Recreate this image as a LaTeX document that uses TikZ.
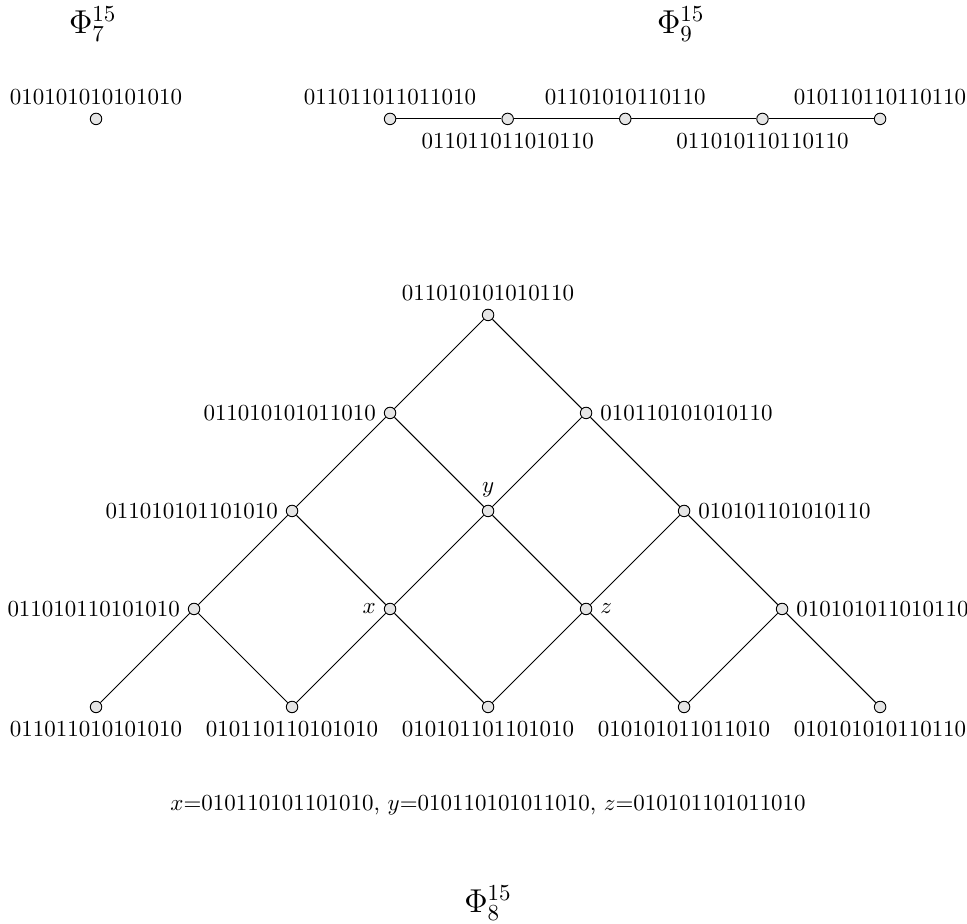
\documentclass[tikz,border=0pt]{standalone}
\usepackage{amsmath}
\usepackage{amssymb}
\usepackage{xcolor}
\usetikzlibrary{positioning}

\begin{document}
\begin{tikzpicture}[scale=1.0,
    vtx/.style={circle, draw, fill=gray!20, inner sep=0pt, minimum size=5pt},
    title/.style={font=\Large}]
            \useasboundingbox (-7.47,4.82) rectangle (7.33,-9.31);
            % Titles
            \node[title] (t7) at (-6.05,4.45) {$\Phi^{15}_{7}$};
            \node[title] (t9) at (2.95,4.45) {$\Phi^{15}_{9}$};
            \node[title] (t8) at (0,-9.0) {$\Phi^{15}_{8}$};

            % Phi_7
            \node[vtx, label=above:{010101010101010}] (s1) at (-6,3) {};

            % Phi_9 (path)
            \node[vtx, label=above:{011011011011010}] (p1) at (-1.5,3) {};
            \node[vtx, label=below:{011011011010110}] (p2) at (0.3,3) {};
            \node[vtx, label=above:{01101010110110}] (p3) at (2.1,3) {};
            \node[vtx, label=below:{011010110110110}] (p4) at (4.2,3) {};
            \node[vtx, label=above:{010110110110110}] (p5) at (6,3) {};

            \draw (p1) -- (p2);
            \draw (p2) -- (p3);
            \draw (p3) -- (p4);
            \draw (p4) -- (p5);

            % Phi_8 (lattice)
            \node[vtx, label=above:{011010101010110}] (v11) at (0,0) {};
            \node[vtx, label=left:{011010101011010}] (v21) at (-1.5,-1.5) {};
            \node[vtx, label=right:{010110101010110}] (v22) at (1.5,-1.5) {};
            \node[vtx, label=left:{011010101101010}] (v31) at (-3,-3) {};
            \node[vtx, label=above:{$y$}] (v32) at (0,-3) {};
            \node[vtx, label=right:{010101101010110}] (v33) at (3,-3) {};
            \node[vtx, label=left:{011010110101010}] (v41) at (-4.5,-4.5) {};
            \node[vtx, label=left:{$x$}] (v42) at (-1.5,-4.5) {};
            \node[vtx, label=right:{$z$}] (v43) at (1.5,-4.5) {};
            \node[vtx, label=right:{010101011010110}] (v44) at (4.5,-4.5) {};
            \node[vtx, label=below:{011011010101010}] (v51) at (-6,-6) {};
            \node[vtx, label=below:{010110110101010}] (v52) at (-3,-6) {};
            \node[vtx, label=below:{010101101101010}] (v53) at (0,-6) {};
            \node[vtx, label=below:{010101011011010}] (v54) at (3,-6) {};
            \node[vtx, label=below:{010101010110110}] (v55) at (6,-6) {};

            % Edges
            \draw (v11) -- (v21);
            \draw (v11) -- (v22);
            \draw (v21) -- (v31);
            \draw (v21) -- (v32);
            \draw (v22) -- (v32);
            \draw (v22) -- (v33);
            \draw (v31) -- (v41);
            \draw (v31) -- (v42);
            \draw (v32) -- (v42);
            \draw (v32) -- (v43);
            \draw (v33) -- (v43);
            \draw (v33) -- (v44);
            \draw (v41) -- (v51);
            \draw (v41) -- (v52);
            \draw (v42) -- (v52);
            \draw (v42) -- (v53);
            \draw (v43) -- (v53);
            \draw (v43) -- (v54);
            \draw (v44) -- (v54);
            \draw (v44) -- (v55);

            % Names of the middle words
            \node (key) at (0,-7.5) {$x$=010110101101010, $y$=010110101011010, $z$=010101101011010};
        \end{tikzpicture}
\end{document}
